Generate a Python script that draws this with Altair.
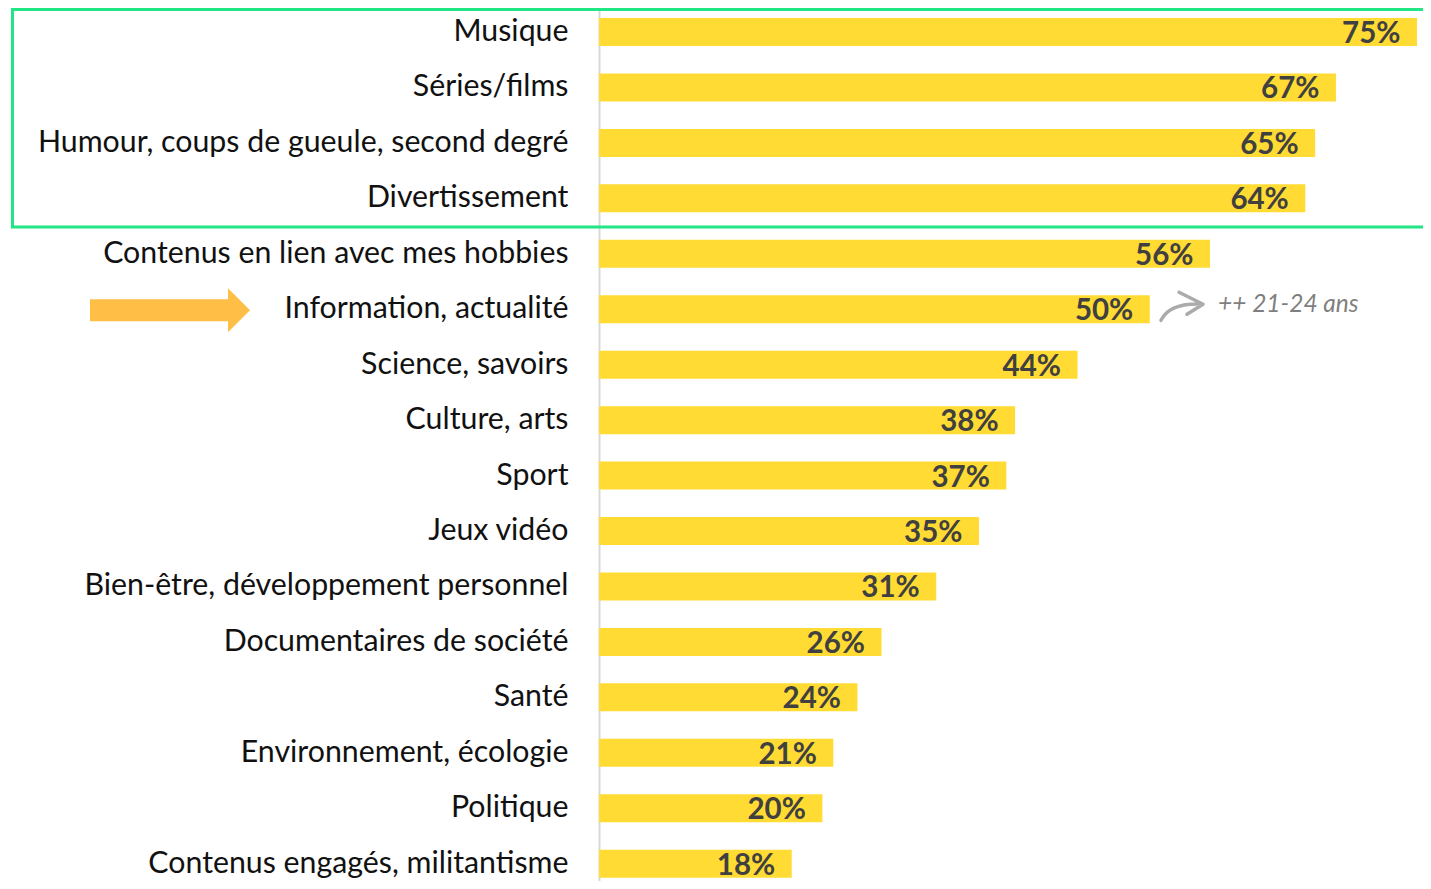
import altair as alt
import pandas as pd

categories = [
    "Musique",
    "Séries/films",
    "Humour, coups de gueule, second degré",
    "Divertissement",
    "Contenus en lien avec mes hobbies",
    "Information, actualité",
    "Science, savoirs",
    "Culture, arts",
    "Sport",
    "Jeux vidéo",
    "Bien-être, développement personnel",
    "Documentaires de société",
    "Santé",
    "Environnement, écologie",
    "Politique",
    "Contenus engagés, militantisme",
]
values = [74.7, 67.3, 65.4, 64.5, 55.8, 50.3, 43.7, 38.0, 37.2, 34.7, 30.8, 25.8, 23.6, 21.4, 20.4, 17.6]
labels = [75, 67, 65, 64, 56, 50, 44, 38, 37, 35, 31, 26, 24, 21, 20, 18]
highlight_category = "Information, actualité"
annotation_text = "++ 21-24 ans"

df = pd.DataFrame({
    "cat": categories,
    "val": values,
    "lab": [f"{v}%" for v in labels],
})

FONT = "Lato"
BAR = "#FFDB33"
GREEN = "#22E585"
ORANGE = "#FFBF46"

yscale = alt.Scale(domain=categories, range=[0, 879.7], paddingInner=0.495, paddingOuter=0.1803)
xscale = alt.Scale(domain=[0, 75.25], nice=False, zero=True)

base = alt.Chart(df)

bars = base.mark_bar(color=BAR).encode(
    x=alt.X("val:Q", scale=xscale, axis=None),
    y=alt.Y("cat:N", scale=yscale, sort=categories,
            axis=alt.Axis(title=None, ticks=False, grid=False, domain=True,
                          domainColor="#D9D9D9", domainWidth=2,
                          labelFont=FONT, labelFontSize=30.3, labelColor="#111111",
                          labelPadding=31, labelLimit=700, labelAlign="right")),
)

vals = base.mark_text(align="right", baseline="alphabetic", dx=-16.5, dy=11,
                      font=FONT, fontWeight="bold", fontSize=29.5, color="#404040").encode(
    x=alt.X("val:Q", scale=xscale),
    y=alt.Y("cat:N", scale=yscale, sort=categories),
    text="lab:N",
)

one = pd.DataFrame({"k": [0]})

box = alt.Chart(one).mark_rect(filled=False, stroke=GREEN, strokeWidth=3).encode(
    x=alt.value(-586.5), x2=alt.value(900), y=alt.value(1.5), y2=alt.value(219)
)

arrow_path = "M-1,-0.1375L0.725,-0.1375L0.725,-0.275L1,0L0.725,0.275L0.725,0.1375L-1,0.1375Z"
orange_arrow = alt.Chart(one).mark_point(
    shape=arrow_path, filled=True, size=25600, color=ORANGE, opacity=1, strokeWidth=0, yOffset=1
).encode(
    x=alt.value(-429),
    y=alt.YDatum(highlight_category, type="nominal", scale=yscale),
)

swoosh_path = "M-0.955,0.64Q-0.545,-0.18,0.955,-0.09M-0.136,-0.636L0.955,-0.09L0.227,0.364"
swoosh = alt.Chart(one).mark_point(
    shape=swoosh_path, filled=False, size=1936, color="#ABABAB", opacity=1,
    strokeWidth=3.5, strokeCap="round", strokeJoin="round", yOffset=-3
).encode(
    x=alt.value(583),
    y=alt.YDatum(highlight_category, type="nominal", scale=yscale),
)

note = alt.Chart(one).mark_text(
    text=annotation_text, align="left", baseline="alphabetic", dy=3,
    font=FONT, fontStyle="italic", fontSize=24.5, color="#7F7F7F"
).encode(
    x=alt.value(619),
    y=alt.YDatum(highlight_category, type="nominal", scale=yscale),
)

chart = alt.layer(bars, vals, box, orange_arrow, swoosh, note).properties(
    width=824, height=873,
    padding={"left": 591, "top": 0, "right": 0, "bottom": 0},
    autosize=alt.AutoSizeParams(type="none"),
).configure_view(stroke=None).configure(background="white")

chart.save("out.html", embed_options={"renderer": "svg", "actions": False})
